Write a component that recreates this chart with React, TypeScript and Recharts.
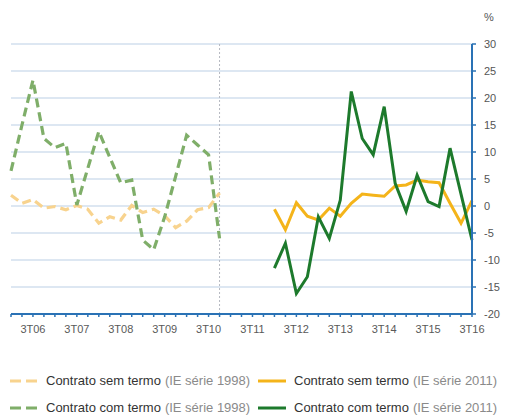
import { LineChart, Line, XAxis, YAxis, CartesianGrid, ReferenceLine } from 'recharts'

const QUARTERS = [
  '1T06', '2T06', '3T06', '4T06', '1T07', '2T07', '3T07', '4T07',
  '1T08', '2T08', '3T08', '4T08', '1T09', '2T09', '3T09', '4T09',
  '1T10', '2T10', '3T10', '4T10', '1T11', '2T11', '3T11', '4T11',
  '1T12', '2T12', '3T12', '4T12', '1T13', '2T13', '3T13', '4T13',
  '1T14', '2T14', '3T14', '4T14', '1T15', '2T15', '3T15', '4T15',
  '1T16', '2T16', '3T16',
]

// IE série 1998: 1T06 to 4T10
const SEM_TERMO_1998 = [2.0, 0.5, 1.2, -0.4, -0.1, -0.7, 0.1, -0.6, -3.2, -2.0, -2.6, 0.1, -1.2, -0.6, -1.8, -4.0, -2.8, -0.7, -0.3, 2.4]
const COM_TERMO_1998 = [6.5, 15, 23.3, 12.5, 10.8, 11.6, 0.2, 7, 13.8, 9, 4.3, 4.8, -6.3, -8.1, -2, 5.5, 13.1, 11.3, 9.5, -6.0]

// IE série 2011: 1T12 to 3T16
const START_2011 = 24
const SEM_TERMO_2011 = [-0.6, -4.4, 0.6, -1.9, -2.6, -0.4, -1.9, 0.5, 2.2, 2.0, 1.8, 3.7, 3.9, 4.8, 4.5, 4.3, 0.5, -3.2, 1.0]
const COM_TERMO_2011 = [-11.5, -6.9, -16.2, -13.1, -2.0, -6.0, 1.1, 21.2, 12.5, 9.5, 18.4, 4.2, -1.0, 5.7, 0.8, -0.1, 10.7, 2.2, -6.3]

const Y_TICKS = [-20, -15, -10, -5, 0, 5, 10, 15, 20, 25, 30]
const SERIES_BREAK = '4T10'

const data = QUARTERS.map((q, i) => ({
  q,
  sem98: i < SEM_TERMO_1998.length ? SEM_TERMO_1998[i] : null,
  com98: i < COM_TERMO_1998.length ? COM_TERMO_1998[i] : null,
  sem11: i >= START_2011 ? SEM_TERMO_2011[i - START_2011] : null,
  com11: i >= START_2011 ? COM_TERMO_2011[i - START_2011] : null,
}))

const AXIS = '#2a72b5'
const GRID = '#bcd0e6'
const LIGHT_ORANGE = '#f8d38e'
const LIGHT_GREEN = '#7fae69'
const ORANGE = '#f4b41a'
const DARK_GREEN = '#1d7a2c'
const FONT = '"Liberation Sans", Arial, sans-serif'

const legendItems = [
  { name: 'Contrato sem termo', note: '(IE série 1998)', color: LIGHT_ORANGE, dashed: true },
  { name: 'Contrato sem termo', note: '(IE série 2011)', color: ORANGE, dashed: false },
  { name: 'Contrato com termo', note: '(IE série 1998)', color: LIGHT_GREEN, dashed: true },
  { name: 'Contrato com termo', note: '(IE série 2011)', color: DARK_GREEN, dashed: false },
]

function LegendIcon({ color, dashed }: { color: string; dashed: boolean }) {
  return (
    <svg width={30} height={6} style={{ marginRight: 6 }}>
      <line
        x1={0}
        y1={3}
        x2={28}
        y2={3}
        stroke={color}
        strokeWidth={3}
        strokeDasharray={dashed ? '11 5' : undefined}
      />
    </svg>
  )
}

export default function App() {
  return (
    <div style={{ position: 'relative', width: 509, height: 415, fontFamily: FONT, background: '#fff' }}>
      <style>{'body{margin:0}'}</style>
      <div style={{ position: 'absolute', left: 484, top: 11, fontSize: 11, color: '#555' }}>%</div>
      <LineChart width={509} height={345} data={data} margin={{ top: 44, right: 0, bottom: 0, left: 11 }}>
        <CartesianGrid vertical={false} stroke={GRID} strokeWidth={1.2} />
        <XAxis
          dataKey="q"
          interval={0}
          height={31}
          axisLine={{ stroke: AXIS, strokeWidth: 2 }}
          tickLine={{ stroke: AXIS, strokeWidth: 1.5 }}
          tickSize={3}
          tickMargin={8}
          tickFormatter={(v: string) => (v.startsWith('3T') ? v : '')}
          tick={{ fontSize: 11, fill: '#595959', fontFamily: FONT }}
        />
        <YAxis
          orientation="right"
          width={37}
          domain={[-20, 30]}
          ticks={Y_TICKS}
          axisLine={{ stroke: AXIS, strokeWidth: 2 }}
          tickLine={{ stroke: AXIS, strokeWidth: 1.5 }}
          tickSize={4}
          tickMargin={8}
          tick={{ fontSize: 11, fill: '#555', fontFamily: FONT }}
        />
        <ReferenceLine x={SERIES_BREAK} stroke="#b5b8c0" strokeDasharray="2 2" />
        <Line dataKey="sem98" stroke={LIGHT_ORANGE} strokeWidth={3.2} strokeDasharray="9 5" dot={false} isAnimationActive={false} />
        <Line dataKey="com98" stroke={LIGHT_GREEN} strokeWidth={3.2} strokeDasharray="9 5" dot={false} isAnimationActive={false} />
        <Line dataKey="sem11" stroke={ORANGE} strokeWidth={3} dot={false} isAnimationActive={false} />
        <Line dataKey="com11" stroke={DARK_GREEN} strokeWidth={3} dot={false} isAnimationActive={false} />
      </LineChart>
      <div
        style={{
          position: 'absolute',
          left: 10,
          top: 371,
          width: 505,
          display: 'grid',
          gridTemplateColumns: '248px 257px',
          rowGap: 8,
          fontSize: 13,
        }}
      >
        {legendItems.map((it, i) => (
          <div key={i} style={{ display: 'flex', alignItems: 'center', whiteSpace: 'nowrap', height: 19 }}>
            <LegendIcon color={it.color} dashed={it.dashed} />
            <span style={{ color: '#333' }}>{it.name}</span>
            <span style={{ color: '#8a8a8a', marginLeft: 4 }}>{it.note}</span>
          </div>
        ))}
      </div>
    </div>
  )
}
